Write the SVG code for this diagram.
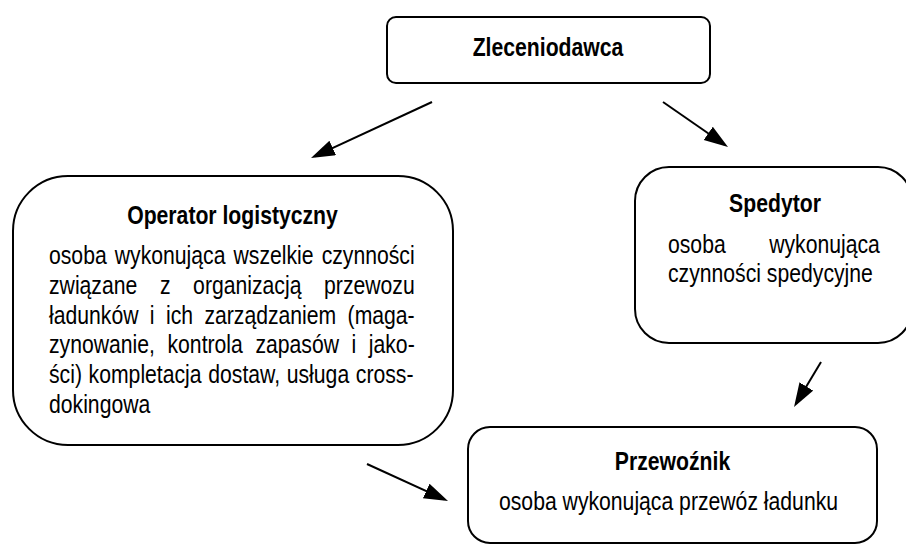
<svg xmlns="http://www.w3.org/2000/svg" width="906" height="545" viewBox="0 0 906 545">
<style>
.box{fill:#fff;stroke:#000;stroke-width:2}
.ln{stroke:#000;stroke-width:2;fill:none;marker-end:url(#ah)}
.t{font-family:"Liberation Sans",Arial,sans-serif;font-size:26px;fill:#000}
.b{font-weight:bold}
.c{text-anchor:middle}
</style>
<defs>
<marker id="ah" markerUnits="userSpaceOnUse" markerWidth="26" markerHeight="18" refX="20" refY="8" orient="auto">
<path d="M0,0 L24,8 L0,16 z" fill="#000"/>
</marker>
</defs>
<rect width="906" height="545" fill="#fff"/>
<g id="connectors">
<line class="ln" x1="432" y1="102" x2="314.6" y2="156.3"/>
<line class="ln" x1="663" y1="102" x2="724.7" y2="144.7"/>
<line class="ln" x1="821" y1="362" x2="796.1" y2="403.6"/>
<line class="ln" x1="367" y1="464" x2="444.4" y2="499.3"/>
</g>
<g id="zleceniodawca">
<rect class="box" x="387" y="17" width="323" height="66" rx="9"/>
<text class="t b c" transform="translate(548 56) scale(0.815 1)">Zleceniodawca</text>
</g>
<g id="operator">
<rect class="box" x="13" y="176" width="440" height="269" rx="55"/>
<text class="t b c" transform="translate(232.5 224) scale(0.815 1)">Operator logistyczny</text>
<text class="t" transform="translate(49 264) scale(0.815 1)" word-spacing="2.72">osoba wykonująca wszelkie czynności</text>
<text class="t" transform="translate(49 293.8) scale(0.815 1)" word-spacing="20.54">związane z organizacją przewozu</text>
<text class="t" transform="translate(49 323.6) scale(0.815 1)" word-spacing="6.74">ładunków i ich zarządzaniem (maga-</text>
<text class="t" transform="translate(49 353.4) scale(0.815 1)" word-spacing="8.18">zynowanie, kontrola zapasów i jako-</text>
<text class="t" transform="translate(49 383.2) scale(0.815 1)" word-spacing="0.96">ści) kompletacja dostaw, usługa cross-</text>
<text class="t" transform="translate(49 413) scale(0.815 1)">dokingowa</text>
</g>
<g id="spedytor">
<rect class="box" x="635" y="167" width="277" height="176" rx="34"/>
<text class="t b c" transform="translate(775 212) scale(0.815 1)">Spedytor</text>
<text class="t" transform="translate(668 253) scale(0.815 1)" word-spacing="46.1">osoba wykonująca</text>
<text class="t" transform="translate(668 282) scale(0.815 1)">czynności spedycyjne</text>
</g>
<g id="przewoznik">
<rect class="box" x="468" y="427" width="409" height="116" rx="22"/>
<text class="t b c" transform="translate(672.5 470) scale(0.815 1)">Przewoźnik</text>
<text class="t" transform="translate(499 510) scale(0.815 1)">osoba wykonująca przewóz ładunku</text>
</g>
</svg>
